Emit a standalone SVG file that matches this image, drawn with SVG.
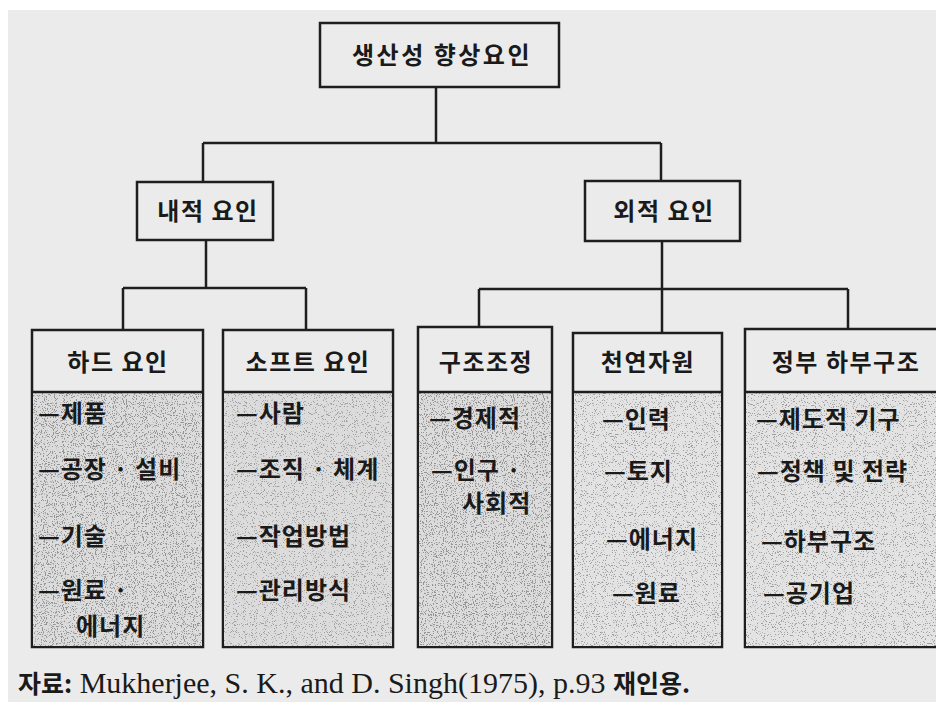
<svg xmlns="http://www.w3.org/2000/svg" width="936" height="702" viewBox="0 0 936 702">
<defs>
<filter id="speck" x="0" y="0" width="100%" height="100%">
<feTurbulence type="fractalNoise" baseFrequency="0.9" numOctaves="2" seed="3" result="n"/>
<feColorMatrix in="n" type="matrix" values="0 0 0 0 0.3  0 0 0 0 0.3  0 0 0 0 0.3  -15 0 0 0 6.4" result="d"/>
<feComposite in="d" in2="SourceGraphic" operator="in"/>
</filter>
<filter id="speckLight" x="0" y="0" width="100%" height="100%">
<feTurbulence type="fractalNoise" baseFrequency="0.9" numOctaves="2" seed="7" result="n"/>
<feColorMatrix in="n" type="matrix" values="0 0 0 0 0.35  0 0 0 0 0.35  0 0 0 0 0.35  -15 0 0 0 5.9" result="d"/>
<feComposite in="d" in2="SourceGraphic" operator="in"/>
</filter>
</defs>
<style>
.box{fill:#ebebeb;stroke:#1e1e1e;stroke-width:2.5}
.line{fill:none;stroke:#1e1e1e;stroke-width:2.5}
.body{fill:#dcdcdc}
.bodyl{fill:#e3e3e3}
.t{font-family:"Noto Sans CJK KR","Noto Sans",sans-serif;font-weight:700;fill:#1a1a1a}
.h{font-size:24px;text-anchor:middle;letter-spacing:1.5px}
.i{font-size:24px;letter-spacing:1px}
.cap{font-family:"Liberation Serif","Noto Sans CJK KR",serif;font-size:30px;fill:#1a1a1a}
.capk{font-family:"Noto Sans CJK KR",sans-serif;font-weight:700;font-size:25px}
</style>
<rect x="0" y="0" width="936" height="702" fill="#ffffff"/>
<rect x="8" y="10" width="928" height="692" fill="#ebebeb"/>

<g id="connectors">
<path class="line" d="M436 87 V143 M203 143 H661 M203 143 V182 M661 143 V181"/>
<path class="line" d="M206 240 V288 M123 288 H306 M123 288 V330 M306 288 V330"/>
<path class="line" d="M662 241 V289 M479 289 H848 M479 289 V327 M662 289 V333 M848 289 V329"/>
</g>

<g id="root">
<rect class="box" x="320" y="23" width="239" height="64"/>
<text class="t h" x="442" y="64" style="letter-spacing:2.5px">생산성 향상요인</text>
</g>

<g id="internal">
<rect class="box" x="137" y="182" width="136" height="58"/>
<text class="t h" x="208" y="220">내적 요인</text>
</g>

<g id="external">
<rect class="box" x="585" y="181" width="155" height="60"/>
<text class="t h" x="664" y="220">외적 요인</text>
</g>

<g id="hard">
<rect class="box" x="32" y="330" width="171" height="317"/>
<rect class="body" x="33" y="393" width="169" height="253"/>
<rect x="33" y="393" width="169" height="253" fill="#000" filter="url(#speck)"/>
<line class="line" x1="32" y1="392" x2="203" y2="392"/>
<text class="t h" x="118" y="371">하드 요인</text>
<text class="t i" x="38" y="422">—제품</text>
<text class="t i" x="38" y="478">—공장 · 설비</text>
<text class="t i" x="38" y="545">—기술</text>
<text class="t i" x="38" y="599">—원료 ·</text>
<text class="t i" x="76" y="635">에너지</text>
</g>

<g id="soft">
<rect class="box" x="223" y="330" width="170" height="317"/>
<rect class="body" x="224" y="393" width="168" height="253"/>
<rect x="224" y="393" width="168" height="253" fill="#000" filter="url(#speckLight)"/>
<line class="line" x1="223" y1="392" x2="393" y2="392"/>
<text class="t h" x="308" y="371">소프트 요인</text>
<text class="t i" x="236" y="422">—사람</text>
<text class="t i" x="236" y="478">—조직 · 체계</text>
<text class="t i" x="236" y="545">—작업방법</text>
<text class="t i" x="236" y="599">—관리방식</text>
</g>

<g id="structural">
<rect class="box" x="418" y="327" width="134" height="320"/>
<rect class="body" x="419" y="393" width="132" height="253"/>
<rect x="419" y="393" width="132" height="253" fill="#000" filter="url(#speck)"/>
<line class="line" x1="418" y1="392" x2="552" y2="392"/>
<text class="t h" x="486" y="371">구조조정</text>
<text class="t i" x="429" y="427">—경제적</text>
<text class="t i" x="431" y="479">—인구 ·</text>
<text class="t i" x="462" y="512">사회적</text>
</g>

<g id="natural">
<rect class="box" x="573" y="333" width="149" height="314"/>
<rect class="bodyl" x="574" y="393" width="147" height="253"/>
<rect x="574" y="393" width="147" height="253" fill="#000" filter="url(#speckLight)"/>
<line class="line" x1="573" y1="392" x2="722" y2="392"/>
<text class="t h" x="648" y="371">천연자원</text>
<text class="t i" x="602" y="428">—인력</text>
<text class="t i" x="604" y="480">—토지</text>
<text class="t i" x="606" y="548">—에너지</text>
<text class="t i" x="612" y="602">—원료</text>
</g>

<g id="government">
<rect class="box" x="745" y="329" width="200" height="318"/>
<rect class="bodyl" x="746" y="393" width="190" height="253"/>
<rect x="746" y="393" width="190" height="253" fill="#000" filter="url(#speckLight)"/>
<line class="line" x1="745" y1="392" x2="936" y2="392"/>
<text class="t h" x="846" y="371">정부 하부구조</text>
<text class="t i" x="756" y="428">—제도적 기구</text>
<text class="t i" x="757" y="480">—정책 및 전략</text>
<text class="t i" x="761" y="550">—하부구조</text>
<text class="t i" x="763" y="602">—공기업</text>
</g>

<g id="caption">
<text class="cap" x="18" y="693"><tspan class="capk">자료:</tspan> Mukherjee, S. K., and D. Singh(1975), p.93 <tspan class="capk">재인용.</tspan></text>
</g>
</svg>
